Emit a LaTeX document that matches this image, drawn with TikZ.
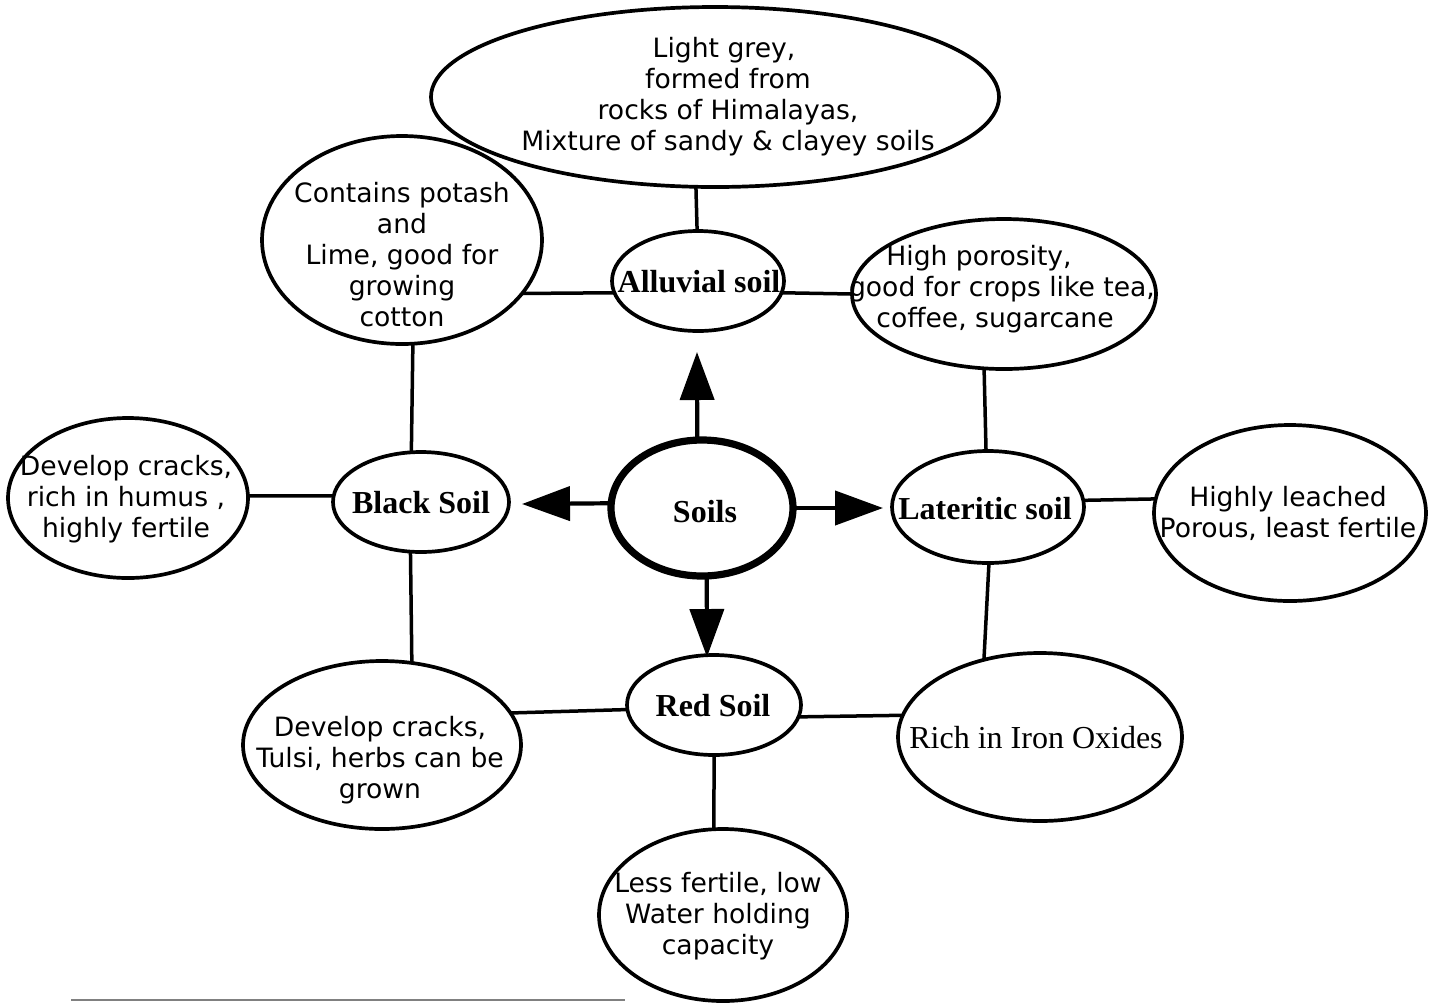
\documentclass[tikz,border=0pt]{standalone}
\usepackage{fontspec}
\setmainfont{Liberation Serif}
\newfontfamily\dvs{DejaVu Sans}
\usetikzlibrary{shapes.geometric,arrows.meta}
\begin{document}
\begin{tikzpicture}[x=0.5pt,y=-0.5pt,
  oval/.style={draw,ellipse,line width=1.85pt,inner sep=0pt,outer sep=0pt},
  desc/.style={font=\dvs\fontsize{13.3}{15.5}\selectfont,align=center,inner sep=0pt},
  head/.style={font=\bfseries\fontsize{16}{19}\selectfont,inner sep=0pt},
  link/.style={line width=1.75pt},
  arr/.style={line width=2.1pt,-{Triangle[length=24pt,width=17pt]}}]
\useasboundingbox (0,0) rectangle (1442,1003);
% ellipses
\node[oval,minimum width=284pt,minimum height=90pt] (top) at (715,97) {};
\node[oval,minimum width=86pt,minimum height=50pt] (alluvial) at (698,281) {};
\node[oval,minimum width=140pt,minimum height=104pt] (potash) at (402,240) {};
\node[oval,minimum width=152pt,minimum height=75pt] (porosity) at (1004,294) {};
\node[oval,line width=3.6pt,minimum width=91pt,minimum height=68pt] (soils) at (702,508) {};
\node[oval,minimum width=88pt,minimum height=50pt] (black) at (421,502) {};
\node[oval,minimum width=120pt,minimum height=80pt] (cracks) at (128,498) {};
\node[oval,minimum width=96pt,minimum height=56pt] (lateritic) at (988,507) {};
\node[oval,minimum width=136pt,minimum height=88pt] (leached) at (1290,513) {};
\node[oval,minimum width=87pt,minimum height=50pt] (red) at (714,705) {};
\node[oval,minimum width=139pt,minimum height=84pt] (tulsi) at (382,745) {};
\node[oval,minimum width=142pt,minimum height=84pt] (iron) at (1040,737) {};
\node[oval,minimum width=124pt,minimum height=86pt] (lessfert) at (723,915) {};
% texts
\node[desc] (ttop) at (728,97) {Light grey,\hspace*{4pt}\\formed from\hspace*{17pt}\\rocks of Himalayas,\hspace*{6pt}\\Mixture of sandy \& clayey soils};
\node[head] (talluvial) at (699,282) {Alluvial soil};
\node[desc] (tpotash) at (402,255) {Contains potash\\and\\Lime, good for\\growing\\cotton};
\node[desc] (tporosity) at (1002,289) {High porosity,\hspace*{23pt}\\good for crops like tea,\\coffee, sugarcane\hspace*{7pt}};
\node[head] (tsoils) at (705,512) {Soils};
\node[head] (tblack) at (421,503) {Black Soil};
\node[desc] (tcracks) at (126,499) {Develop cracks,\\rich in humus ,\\highly fertile};
\node[head] (tlateritic) at (985,509) {Lateritic soil};
\node[desc] (tleached) at (1288,513) {Highly leached\\Porous, least fertile};
\node[head] (tred) at (713,706) {Red Soil};
\node[desc] (ttulsi) at (380,760) {Develop cracks,\\Tulsi, herbs can be\\grown};
\node[font=\fontsize{16}{19}\selectfont,inner sep=0pt] (tiron) at (1036,738) {Rich in Iron Oxides};
\node[desc] (tlessfert) at (718,916) {Less fertile, low\\Water holding\\capacity};
% connectors
\draw[link] (top.258.7) -- (alluvial.91);
\draw[link] (alluvial.188.2) -- (potash.336.3);
\draw[link] (alluvial.352) -- (porosity.180);
\draw[link] (potash.276.6) -- (black.101.4);
\draw[link] (black.176.1) -- (cracks.1.9);
\draw[link] (black.258.6) -- (tulsi.70.6);
\draw[link] (tulsi.14.5) -- (red.183.3);
\draw[link] (red.270) -- (lessfert.96.7);
\draw[link] (red.352.6) -- (iron.171.3);
\draw[link] (lateritic.271) -- (iron.126);
\draw[link] (lateritic.92) -- (porosity.255);
\draw[link] (lateritic.4.2) -- (leached.174.5);
% arrows
\coordinate (aup) at (697,352);
\coordinate (aleft) at (522,504);
\coordinate (aright) at (883,508);
\coordinate (adown) at (707,657);
\draw[arr] (soils.94.2) -- (aup);
\draw[arr] (soils.177.5) -- (aleft);
\draw[arr] (soils.0) -- (aright);
\draw[arr] (soils.274.2) -- (adown);
% bottom rule
\coordinate (r1) at (71,1000);
\coordinate (r2) at (625,1000);
\draw[gray,line width=0.6pt] (r1) -- (r2);
\end{tikzpicture}
\end{document}
